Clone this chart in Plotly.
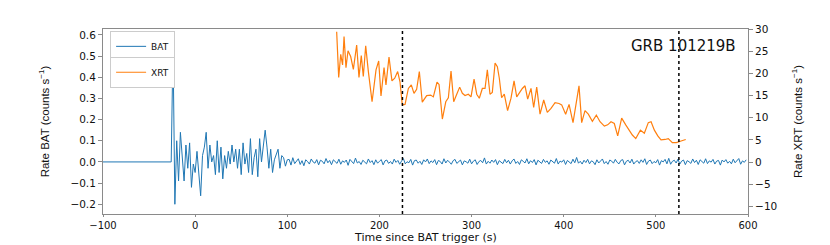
import numpy as np
import plotly.graph_objects as go

# ---- data ----
# BAT: flat pre-trigger segment, then 2 s bins starting at -26 s
BAT_PRE_T = [-100, -28]
BAT_PRE_RATE = [0.0, 0.0]
BAT_T0 = -26
BAT_DT = 2
BAT_RATE = [
    0.0, 0.55, -0.20, 0.10, -0.09, 0.14, 0.04, -0.09, 0.08, -0.03,
    0.09, -0.12, -0.01, -0.05, 0.05, -0.06, -0.16, 0.03, 0.07, 0.14,
    -0.03, 0.08, 0.00, 0.03, -0.06, 0.10, -0.05, 0.07, -0.08, 0.03,
    -0.03, 0.05, -0.01, 0.08, 0.00, 0.06, -0.03, 0.06, -0.06, 0.09,
    -0.01, 0.04, -0.05, 0.11, -0.06, 0.02, 0.06, -0.07, 0.11, 0.00,
    0.09, 0.15, 0.07, -0.03, 0.06, -0.05, 0.01, 0.04, 0.06, -0.03,
    0.03, 0.02, -0.02, 0.01,
    0.012, -0.015, 0.020, -0.008, 0.004, 0.015, -0.012, 0.006, -0.018, 0.010,
    0.002, -0.010, 0.014, 0.000, -0.006, 0.011, -0.014, 0.008, 0.003, -0.009,
    0.016, -0.004, 0.007, -0.013, 0.010, 0.001, -0.007, 0.013, -0.011, 0.005,
    -0.002, 0.009, -0.016, 0.012, 0.004, -0.008, 0.018, -0.005, 0.002, -0.012,
    0.008, 0.000, -0.009, 0.014, -0.003, 0.006, -0.013, 0.010, -0.006, 0.003,
    0.011, -0.014, 0.005, 0.009, -0.007, 0.002, -0.010, 0.013, -0.002, 0.007,
    -0.011, 0.004, 0.016, -0.009, 0.001, -0.004, 0.012, -0.015, 0.006, 0.009,
    -0.006, 0.003, -0.012, 0.010, 0.000, 0.014, -0.008, 0.005, -0.003, 0.011,
    -0.013, 0.007, 0.002, -0.010, 0.015, -0.005, 0.008, -0.001, -0.011, 0.006,
    0.012, -0.007, 0.003, 0.009, -0.014, 0.005, 0.001, -0.006, 0.013, -0.009,
    0.004, 0.010, -0.012, 0.002, 0.007, -0.004, 0.019, -0.010, 0.003, -0.006,
    0.009, -0.002, 0.011, -0.013, 0.006, 0.000, -0.008, 0.012, -0.004, 0.008,
    -0.010, 0.005, 0.014, -0.007, 0.002, -0.012, 0.010, 0.003, -0.005, 0.015,
    -0.009, 0.006, -0.003, 0.011, -0.014, 0.008, 0.001, -0.007, 0.012, -0.002,
    0.005, -0.011, 0.009, 0.003, -0.006, 0.016, -0.010, 0.004, -0.001, 0.010,
    -0.012, 0.007, 0.000, -0.008, 0.013, -0.004, 0.021, -0.006, 0.003, -0.010,
    0.008, -0.003, 0.012, -0.009, 0.005, 0.001, -0.013, 0.010, -0.005, 0.006,
    0.014, -0.008, 0.002, -0.011, 0.009, 0.004, -0.006, 0.012, -0.002, -0.009,
    0.007, 0.011, -0.014, 0.003, 0.008, -0.005, 0.013, -0.010, 0.001, 0.006,
    -0.007, 0.010, -0.002, 0.015, -0.012, 0.004, 0.009, -0.008, 0.002, -0.004,
    0.011, -0.015, 0.006, 0.000, 0.012, -0.009, 0.017, -0.011, 0.003, 0.008,
    -0.005, 0.013, -0.010, 0.004, 0.009, -0.013, 0.006, 0.001, -0.007, 0.014,
    -0.003, 0.008, -0.012, 0.010, 0.002, -0.006, 0.015, -0.008, 0.005, -0.001,
    0.012, -0.010, 0.004, 0.007, -0.015, 0.009, 0.000, 0.011, -0.006, 0.003,
    -0.009, 0.013, -0.004, 0.006, 0.016, -0.011, 0.005, -0.002, 0.010,
]

XRT_T = [
    153.6, 155.8, 158.0, 160.0, 161.6, 163.7, 165.9, 168.8, 171.7, 175.3,
    177.8, 180.3, 182.5, 185.1, 188.0, 192.0, 196.3, 199.2, 201.7, 205.0,
    207.1, 210.4, 213.6, 216.6, 219.8, 222.3, 224.8, 227.8, 231.4, 234.6,
    237.5, 240.4, 243.3, 246.5, 251.3, 255.6, 258.5, 262.5, 264.7, 268.3,
    272.0, 274.8, 277.7, 280.6, 283.9, 287.1, 290.0, 292.9, 296.5, 299.4,
    302.7, 305.6, 308.4, 311.7, 314.6, 317.1, 320.0, 322.5, 325.5, 328.0,
    330.1, 332.6, 335.5, 339.1, 342.8, 346.1, 349.0, 352.6, 355.1, 358.0,
    360.9, 364.5, 367.4, 370.7, 374.3, 378.3, 382.2, 386.2, 390.6, 394.9,
    397.8, 402.1, 405.8, 410.1, 413.7, 416.6, 419.5, 423.1, 426.7, 431.1,
    435.4, 439.4, 444.1, 447.7, 451.3, 454.9, 458.6, 462.9, 467.3, 470.9,
    474.5, 478.2, 483.2, 487.5, 491.8, 494.8, 498.4, 502.1, 505.6, 510.0,
    513.5, 517.9, 522.2, 526.6, 532.4,
]
XRT_RATE = [
    29.4, 19.1, 24.3, 21.9, 28.3, 21.3, 25.1, 23.8, 20.9, 26.4,
    19.1, 24.0, 19.3, 26.2, 20.4, 13.6, 20.8, 22.8, 14.9, 21.3,
    17.4, 23.7, 18.3, 18.9, 20.4, 18.1, 12.9, 13.0, 16.6, 17.4,
    15.5, 16.4, 20.4, 13.5, 15.0, 15.1, 14.7, 18.0, 17.5, 9.7,
    13.6, 14.5, 20.5, 13.6, 15.3, 16.9, 15.5, 15.0, 15.3, 14.7,
    18.7, 15.3, 14.4, 16.6, 16.6, 20.8, 15.3, 15.7, 22.3, 21.5,
    18.9, 14.5, 15.3, 11.6, 14.4, 18.3, 14.7, 15.9, 16.6, 17.2,
    14.2, 16.6, 12.3, 16.9, 10.8, 14.0, 11.2, 12.1, 13.4, 13.2,
    12.9, 10.8, 13.0, 8.9, 14.0, 17.2, 8.9, 11.6, 10.8, 9.2,
    10.6, 9.1, 8.1, 8.4, 9.1, 8.7, 5.9, 9.9, 8.4, 7.1,
    6.1, 5.3, 7.2, 6.5, 8.9, 9.1, 7.2, 5.9, 5.0, 5.1,
    5.3, 4.4, 4.4, 4.7, 5.1,
]

VLINES = [225, 525]
X_TICKS = [-100, 0, 100, 200, 300, 400, 500, 600]
BAT_TICKS = [-0.2, -0.1, 0.0, 0.1, 0.2, 0.3, 0.4, 0.5, 0.6]
XRT_TICKS = [-10, -5, 0, 5, 10, 15, 20, 25, 30]

BLUE = "#1f77b4"
ORANGE = "#ff7f0e"
SPINE = "#8a8a8a"
INK = "#111"
TICK_FONT = dict(family="DejaVu Sans", size=10.5, color=INK)
XTICK_FONT = dict(family="DejaVu Sans", size=10, color=INK)
TITLE_FONT = dict(family="Liberation Sans", size=11.5, color=INK)

bat_t = BAT_PRE_T + list(BAT_T0 + BAT_DT * np.arange(len(BAT_RATE)))
bat_y = BAT_PRE_RATE + BAT_RATE

fig = go.Figure()
fig.add_trace(go.Scatter(
    x=bat_t, y=bat_y, mode="lines", name="BAT",
    line=dict(color=BLUE, width=1), legend="legend",
))
fig.add_trace(go.Scatter(
    x=XRT_T, y=XRT_RATE, mode="lines", name="XRT", yaxis="y2",
    line=dict(color=ORANGE, width=1.2), legend="legend2",
))

for xv in VLINES:
    fig.add_vline(x=xv, line=dict(color="black", width=1.5, dash="dot"))

fig.add_annotation(
    x=0.985, y=0.908, xref="paper", yref="paper", xanchor="right", yanchor="middle",
    text="GRB 101219B", showarrow=False,
    font=dict(family="DejaVu Sans", size=15, color=INK),
)

# x-axis title placed by hand so it fits inside the short canvas
fig.add_annotation(
    x=0.5, y=-0.172, xref="paper", yref="paper", xanchor="center", yanchor="bottom",
    text="Time since BAT trigger (s)", showarrow=False,
    font=dict(family="DejaVu Sans", size=11, color=INK),
)

legend_style = dict(
    x=0.011, xanchor="left", yanchor="top",
    bgcolor="white", bordercolor="#cccccc", borderwidth=1,
    font=dict(family="DejaVu Sans", size=9, color=INK),
    itemwidth=30, tracegroupgap=0,
)

# page body adds an 8 px offset, so the figure is 8 px smaller than the window
fig.update_layout(
    width=822, height=237,
    margin=dict(l=95, r=82, t=21, b=31),
    plot_bgcolor="white", paper_bgcolor="white",
    showlegend=True,
    legend=dict(y=0.99, **legend_style),
    legend2=dict(y=0.85, **legend_style),
    xaxis=dict(
        range=[-100, 600], tickvals=X_TICKS, ticks="outside", ticklen=2,
        tickcolor=SPINE, showline=True, linecolor=SPINE, mirror=True,
        showgrid=False, zeroline=False, tickfont=XTICK_FONT,
    ),
    yaxis=dict(
        range=[-0.246, 0.628], tickvals=BAT_TICKS, tickformat=".1f", ticks="outside",
        ticklen=4, tickcolor=SPINE, showline=True, linecolor=SPINE,
        showgrid=False, zeroline=False, tickfont=TICK_FONT,
        title=dict(text="Rate BAT (counts s<sup>−1</sup>)", font=TITLE_FONT, standoff=18),
    ),
    yaxis2=dict(
        range=[-11.7, 30], tickvals=XRT_TICKS, overlaying="y", side="right",
        ticks="outside", ticklen=4, tickcolor=SPINE, showline=True, linecolor=SPINE,
        showgrid=False, zeroline=False, tickfont=TICK_FONT,
        title=dict(text="Rate XRT (counts s<sup>−1</sup>)", font=TITLE_FONT, standoff=17),
    ),
)

fig.write_html("out.html")
